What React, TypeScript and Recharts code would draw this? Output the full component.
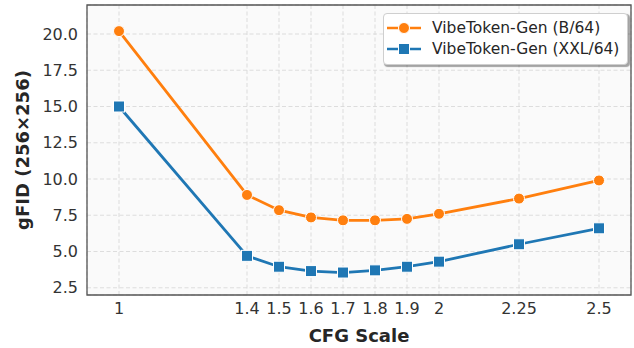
import React from "react";
import { LineChart, Line, XAxis, YAxis, CartesianGrid, Legend, Label, ReferenceArea } from "recharts";

const cfgScale = [1, 1.4, 1.5, 1.6, 1.7, 1.8, 1.9, 2, 2.25, 2.5];
const gfidB64 = [20.2, 8.9, 7.85, 7.35, 7.15, 7.15, 7.25, 7.6, 8.65, 9.9];
const gfidXXL64 = [15.0, 4.7, 3.95, 3.65, 3.55, 3.7, 3.95, 4.3, 5.5, 6.6];
const yTicks = [2.5, 5, 7.5, 10, 12.5, 15, 17.5, 20];

const ORANGE = "#ff7f0e";
const BLUE = "#1f77b4";
const FONT = "'DejaVu Sans', sans-serif";

const data = cfgScale.map((cfg, i) => ({ cfg, b64: gfidB64[i], xxl64: gfidXXL64[i] }));

const series = [
  { key: "b64", name: "VibeToken-Gen (B/64)", color: ORANGE, marker: "circle" },
  { key: "xxl64", name: "VibeToken-Gen (XXL/64)", color: BLUE, marker: "square" },
];

function SquareDot(props: any) {
  const { cx, cy } = props;
  if (cx == null || cy == null) return null;
  return <rect x={cx - 5.5} y={cy - 5.5} width={11} height={11} fill={BLUE} stroke="#fff" strokeWidth={1} />;
}

function CircleDot(props: any) {
  const { cx, cy } = props;
  if (cx == null || cy == null) return null;
  return <circle cx={cx} cy={cy} r={5.5} fill={ORANGE} stroke="#fff" strokeWidth={1} />;
}

function LegendBox() {
  return (
    <div
      style={{
        background: "#fff",
        border: "1px solid #cfcfcf",
        borderRadius: 4,
        boxShadow: "1.5px 1.5px 1px rgba(0,0,0,0.35)",
        padding: "3.5px 6px 4.5px 3px",
        fontFamily: FONT,
        fontSize: 15.5,
        color: "#262626",
        width: 234,
      }}
    >
      {series.map((s) => (
        <div key={s.key} style={{ display: "flex", alignItems: "center", height: 21, whiteSpace: "nowrap" }}>
          <svg width={34} height={14} style={{ marginRight: 11, flexShrink: 0 }}>
            <line x1={0} y1={7} x2={34} y2={7} stroke={s.color} strokeWidth={2.5} />
            {s.marker === "circle" ? (
              <circle cx={17} cy={7} r={5.5} fill={s.color} stroke="#fff" strokeWidth={1} />
            ) : (
              <rect x={11.5} y={1.5} width={11} height={11} fill={s.color} stroke="#fff" strokeWidth={1} />
            )}
          </svg>
          <span>{s.name}</span>
        </div>
      ))}
    </div>
  );
}

export default function App() {
  return (
    <div style={{ width: 634, height: 348, background: "#fff" }}>
      <style>{`body{margin:0}`}</style>
      <LineChart width={634} height={348} data={data} margin={{ top: 5, right: 3, bottom: 0, left: 0 }}>
        <CartesianGrid fill="#fafafa" stroke="#d9d9d9" strokeDasharray="4 2.5" strokeWidth={0.9} />
        <XAxis
          dataKey="cfg"
          type="number"
          domain={[0.9, 2.6]}
          ticks={cfgScale}
          height={53}
          tickLine={false}
          axisLine={false}
          tickSize={0}
          tickMargin={8}
          tick={{ fontSize: 16, fill: "#333", fontFamily: FONT }}
          allowDataOverflow
        >
          <Label
            content={(p: any) => {
              const vb = p.viewBox;
              return (
                <text
                  x={vb.x + vb.width / 2}
                  y={335}
                  textAnchor="middle"
                  dominantBaseline="central"
                  fontFamily={FONT}
                  fontSize={18}
                  fontWeight="bold"
                  fill="#262626"
                >
                  CFG Scale
                </text>
              );
            }}
          />
        </XAxis>
        <YAxis
          type="number"
          domain={[2, 22]}
          ticks={yTicks}
          width={87}
          tickLine={false}
          axisLine={false}
          tickSize={0}
          tickMargin={9}
          tickFormatter={(v) => Number(v).toFixed(1)}
          tick={{ fontSize: 16, fill: "#333", fontFamily: FONT }}
          allowDataOverflow
        >
          <Label
            content={(p: any) => {
              const vb = p.viewBox;
              const x = vb.x + 22;
              const y = vb.y + vb.height / 2;
              return (
                <text
                  x={x}
                  y={y}
                  transform={`rotate(-90 ${x} ${y})`}
                  textAnchor="middle"
                  dominantBaseline="central"
                  fontFamily={FONT}
                  fontSize={18}
                  fontWeight="bold"
                  fill="#262626"
                >
                  gFID (256×256)
                </text>
              );
            }}
          />
        </YAxis>
        <ReferenceArea x1={0.9} x2={2.6} y1={2} y2={22} fill="none" stroke="#555" strokeWidth={1.3} ifOverflow="visible" />
        <Line
          type="linear"
          dataKey="b64"
          name="VibeToken-Gen (B/64)"
          stroke={ORANGE}
          strokeWidth={2.8}
          dot={<CircleDot />}
          activeDot={false}
          isAnimationActive={false}
        />
        <Line
          type="linear"
          dataKey="xxl64"
          name="VibeToken-Gen (XXL/64)"
          stroke={BLUE}
          strokeWidth={2.8}
          dot={<SquareDot />}
          activeDot={false}
          isAnimationActive={false}
        />
        <Legend
          layout="vertical"
          align="center"
          verticalAlign="middle"
          content={() => <LegendBox />}
          wrapperStyle={{ position: "absolute", left: 383, top: 13, width: "auto" }}
        />
      </LineChart>
    </div>
  );
}
